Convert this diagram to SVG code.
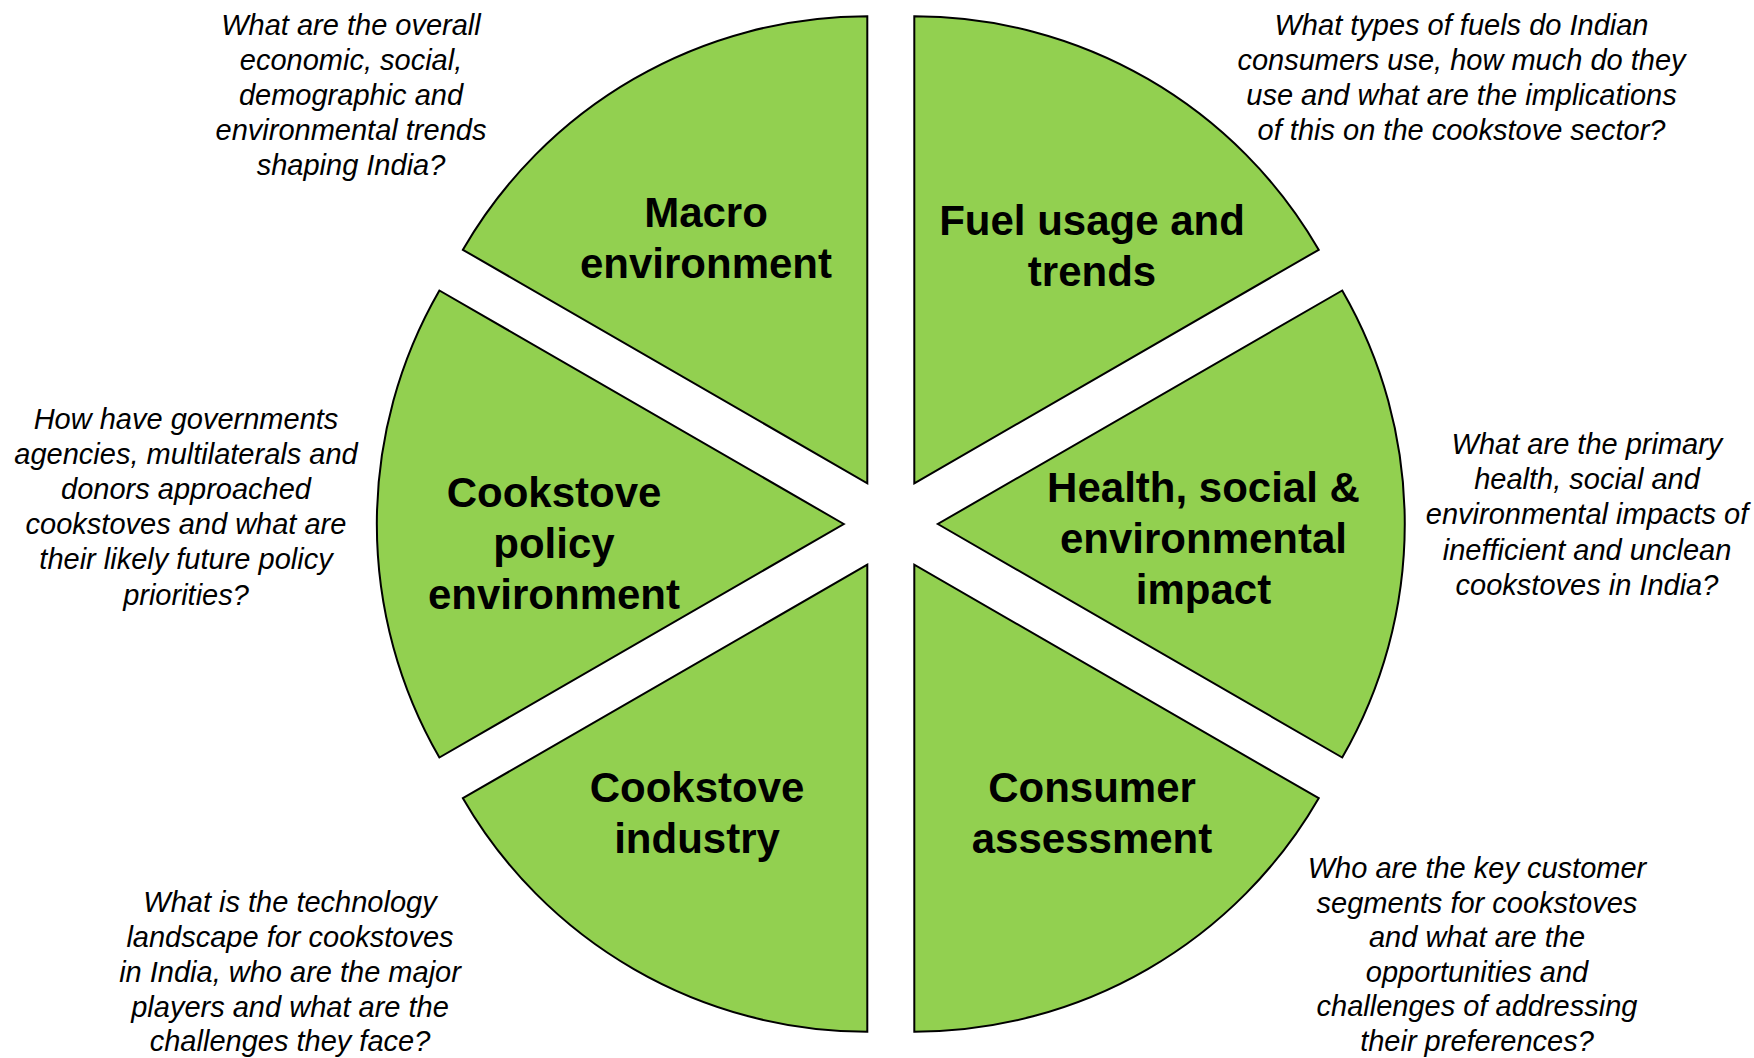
<svg xmlns="http://www.w3.org/2000/svg" width="1754" height="1058" viewBox="0 0 1754 1058">
<style>
.w{fill:#92D050;stroke:#000;stroke-width:2;stroke-linejoin:miter}
.l{font-family:"Liberation Sans",Arial,sans-serif;font-weight:bold;font-size:42px;fill:#000;text-anchor:middle}
.q{font-family:"Liberation Sans",Arial,sans-serif;font-style:italic;font-size:29px;fill:#000;text-anchor:middle}
</style>
<rect width="1754" height="1058" fill="#fff"/>
<g id="macro">
<path class="w" d="M867.3,483.3 L867.3,16.3 A467,467 0 0 0 462.9,249.8 Z"/>
<text class="l" x="706" y="227">Macro</text>
<text class="l" x="706" y="278">environment</text>
</g>
<g id="fuel">
<path class="w" d="M914.3,483.3 L1318.7,249.8 A467,467 0 0 0 914.3,16.3 Z"/>
<text class="l" x="1092" y="234.5">Fuel usage and</text>
<text class="l" x="1092" y="285.5">trends</text>
</g>
<g id="policy">
<path class="w" d="M843.8,524 L439.4,290.5 A467,467 0 0 0 439.4,757.5 Z"/>
<text class="l" x="554" y="506.5">Cookstove</text>
<text class="l" x="554" y="557.5">policy</text>
<text class="l" x="554" y="608.5">environment</text>
</g>
<g id="health">
<path class="w" d="M937.8,524 L1342.2,757.5 A467,467 0 0 0 1342.2,290.5 Z"/>
<text class="l" x="1203.5" y="502">Health, social &amp;</text>
<text class="l" x="1203.5" y="553">environmental</text>
<text class="l" x="1203.5" y="604">impact</text>
</g>
<g id="industry">
<path class="w" d="M867.3,564.7 L462.9,798.2 A467,467 0 0 0 867.3,1031.7 Z"/>
<text class="l" x="697" y="801.5">Cookstove</text>
<text class="l" x="697" y="852.5">industry</text>
</g>
<g id="consumer">
<path class="w" d="M914.3,564.7 L914.3,1031.7 A467,467 0 0 0 1318.7,798.2 Z"/>
<text class="l" x="1092" y="801.5">Consumer</text>
<text class="l" x="1092" y="852.5">assessment</text>
</g>
<g id="q-macro">
<text class="q" x="351" y="34.5">What are the overall</text>
<text class="q" x="351" y="69.7">economic, social,</text>
<text class="q" x="351" y="104.9">demographic and</text>
<text class="q" x="351" y="140.1">environmental trends</text>
<text class="q" x="351" y="175.3">shaping India?</text>
</g>
<g id="q-fuel">
<text class="q" x="1461.5" y="34.5">What types of fuels do Indian</text>
<text class="q" x="1461.5" y="69.7">consumers use, how much do they</text>
<text class="q" x="1461.5" y="104.9">use and what are the implications</text>
<text class="q" x="1461.5" y="140.1">of this on the cookstove sector?</text>
</g>
<g id="q-policy">
<text class="q" x="186" y="428.5">How have governments</text>
<text class="q" x="186" y="463.7">agencies, multilaterals and</text>
<text class="q" x="186" y="498.9">donors approached</text>
<text class="q" x="186" y="534.1">cookstoves and what are</text>
<text class="q" x="186" y="569.3">their likely future policy</text>
<text class="q" x="186" y="604.5">priorities?</text>
</g>
<g id="q-health">
<text class="q" x="1587" y="454">What are the primary</text>
<text class="q" x="1587" y="489.2">health, social and</text>
<text class="q" x="1587" y="524.4">environmental impacts of</text>
<text class="q" x="1587" y="559.6">inefficient and unclean</text>
<text class="q" x="1587" y="594.8">cookstoves in India?</text>
</g>
<g id="q-industry">
<text class="q" x="290" y="911.5">What is the technology</text>
<text class="q" x="290" y="946.5">landscape for cookstoves</text>
<text class="q" x="290" y="981.5">in India, who are the major</text>
<text class="q" x="290" y="1016.5">players and what are the</text>
<text class="q" x="290" y="1051">challenges they face?</text>
</g>
<g id="q-consumer">
<text class="q" x="1477" y="878">Who are the key customer</text>
<text class="q" x="1477" y="912.6">segments for cookstoves</text>
<text class="q" x="1477" y="947.2">and what are the</text>
<text class="q" x="1477" y="981.8">opportunities and</text>
<text class="q" x="1477" y="1016.4">challenges of addressing</text>
<text class="q" x="1477" y="1051">their preferences?</text>
</g>
<g id="connectors"></g>
</svg>
